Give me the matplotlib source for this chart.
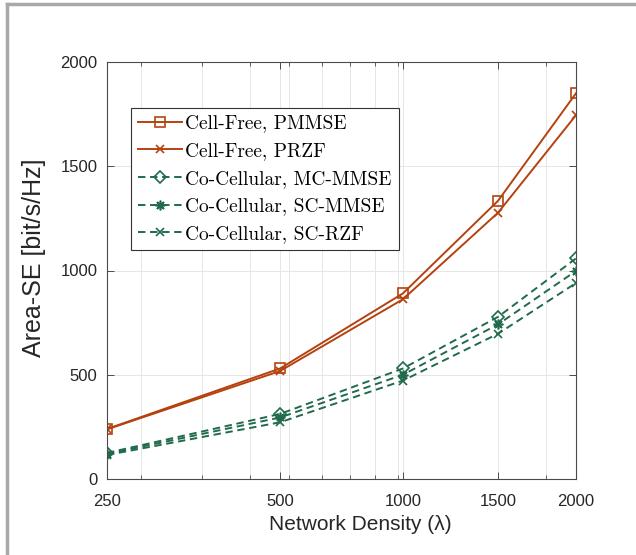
#!/usr/bin/env python3
"""Area-SE vs network density: cell-free vs co-cellular precoders."""

import matplotlib
matplotlib.use("Agg")
import matplotlib.pyplot as plt
from matplotlib.lines import Line2D
from matplotlib.ticker import FixedLocator, NullFormatter

# underlying densities (square AP grids), labelled with rounded values
density = [256, 576, 1024, 1600, 2304]
density_labels = ["250", "500", "1000", "1500", "2000"]
minor_grid = [300, 400, 500, 600, 700, 800, 900, 1000, 2000]

cf_pmmse = [240, 530, 890, 1335, 1850]
cf_przf = [238, 518, 862, 1278, 1745]
cc_mc_mmse = [125, 312, 530, 778, 1058]
cc_sc_mmse = [120, 295, 500, 742, 998]
cc_sc_rzf = [115, 272, 472, 697, 940]

yticks = [0, 500, 1000, 1500, 2000]

BROWN = "#B5420E"
GREEN = "#1F6B4B"

plt.rcParams["font.family"] = ["Liberation Sans", "DejaVu Sans"]

fig = plt.figure(figsize=(6.36, 5.55), dpi=100)
ax = fig.add_axes([107 / 636, 76 / 555, 469 / 636, 417 / 555])

lw = 1.4
dash = (0, (3.8, 2.4))
ax.plot(density, cf_pmmse, color=BROWN, lw=lw, marker="s", ms=7, mfc="none",
        mew=1.2, label="Cell-Free, PMMSE")
ax.plot(density, cf_przf, color=BROWN, lw=lw, marker="x", ms=6, mew=1.2,
        label="Cell-Free, PRZF")
ax.plot(density, cc_mc_mmse, color=GREEN, lw=lw, ls=dash, marker="D", ms=6,
        mfc="none", mew=1.2, label="Co-Cellular, MC-MMSE")
ax.plot(density, cc_sc_mmse, color=GREEN, lw=lw, ls=dash, marker=(8, 2, 0),
        ms=7, mew=1.2, label="Co-Cellular, SC-MMSE")
ax.plot(density, cc_sc_rzf, color=GREEN, lw=lw, ls=dash, marker="x", ms=6,
        mew=1.2, label="Co-Cellular, SC-RZF")

ax.set_xscale("log")
ax.set_xlim(density[0], density[-1])
ax.set_ylim(0, 2000)
ax.xaxis.set_major_locator(FixedLocator(density))
ax.set_xticklabels(density_labels)
ax.xaxis.set_minor_locator(FixedLocator(minor_grid))
ax.xaxis.set_minor_formatter(NullFormatter())
ax.set_yticks(yticks)
ax.yaxis.set_minor_locator(FixedLocator([]))

ax.grid(True, which="both", color="#E6E6E6", lw=0.7)
ax.set_axisbelow(True)
ax.tick_params(which="both", direction="in", top=True, right=True,
               colors="#4A4A4A", labelcolor="#262626", labelsize=12)
ax.tick_params(which="major", length=5, width=0.7)
ax.tick_params(which="minor", length=3, width=0.6)
ax.tick_params(axis="x", pad=11)
ax.tick_params(axis="y", pad=7)
for s in ax.spines.values():
    s.set_color("#4A4A4A")
    s.set_linewidth(0.8)

ax.set_xlabel("Network Density (λ)", fontsize=15, color="#262626")
ax.set_ylabel("Area-SE [bit/s/Hz]", fontsize=18, color="#262626")
ax.xaxis.set_label_coords(0.54, -0.086)
ax.yaxis.set_label_coords(-0.13, 0.53)

leg = ax.legend(loc="upper left", bbox_to_anchor=(0.051, 0.89), borderaxespad=0,
                prop={"family": "cmr10", "size": 14}, fancybox=False,
                edgecolor="#333333", framealpha=1, borderpad=0.35,
                handlelength=2.3, handletextpad=0.15, labelspacing=0.5)
leg.get_frame().set_linewidth(0.8)

# grey frame on top and left of the exported figure
fig.add_artist(Line2D([7 / 636, 1], [1 - 4 / 555, 1 - 4 / 555],
                      transform=fig.transFigure, color="#A9A9A9", lw=2.5))
fig.add_artist(Line2D([7 / 636, 7 / 636], [2 / 555, 1 - 4 / 555],
                      transform=fig.transFigure, color="#A9A9A9", lw=2.5))

fig.savefig("out.png", dpi=100)
